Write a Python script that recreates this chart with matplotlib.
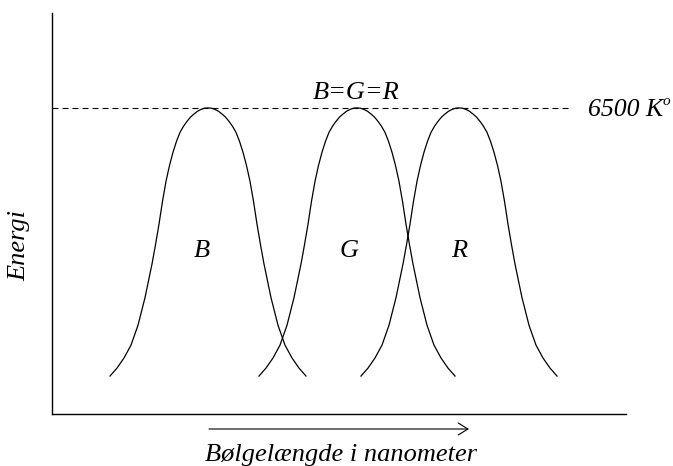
import matplotlib
matplotlib.use('Agg')
import matplotlib.pyplot as plt

plt.rcParams['font.family'] = ['Liberation Serif', 'DejaVu Serif']
plt.rcParams['font.style'] = 'italic'

# half of the bell shape (offset from peak, energy with peak = 100)
half_offset = [0, 3.5, 7, 10.5, 14, 17.5, 21, 24.5, 28, 31.5, 35, 38.5, 42, 45.5,
               49, 52.5, 56, 63, 70, 77, 84, 91, 98]
half_energy = [100, 99.9, 99.5, 98.9, 98, 97, 95.6, 94, 92, 89.1, 85.5, 81.2, 76, 69.5,
               62, 55.3, 49, 38, 29, 22.5, 18.3, 15, 12.4]
bell_offset = [-d for d in half_offset[::-1]] + half_offset[1:]
bell_energy = half_energy[::-1] + half_energy[1:]

names = ['B', 'G', 'R']
peaks = [156, 305, 407]
label_x = [150, 297, 407]
white_level = 100

fig = plt.figure(figsize=(6.73, 4.66), dpi=100)
ax = fig.add_axes([52/673, 52/466, 574/673, 401/466])
ax.set_xlim(0, 574)
ax.set_ylim(0, 131)

for name, p, lx in zip(names, peaks, label_x):
    ax.plot([p + d for d in bell_offset], bell_energy, color='black', lw=0.9)
    ax.text(lx, 51.3, name, ha='center', va='baseline', fontsize=19)

ax.plot([0, 518], [white_level, white_level], color='black', lw=0.8,
        dashes=(5.4, 3.6))
ax.text(304, 102.9, 'B=G=R', ha='center', va='baseline', fontsize=19)
t = ax.text(536, 97.4, '6500 K', ha='left', va='baseline', fontsize=18.5)
ax.annotate('o', xy=(1, 1), xycoords=t, xytext=(-0.5, 2.5), textcoords='offset points',
            ha='left', va='top', fontsize=11)

for s in ['top', 'right']:
    ax.spines[s].set_visible(False)
for s in ['left', 'bottom']:
    ax.spines[s].set_linewidth(1.0)
ax.set_xticks([])
ax.set_yticks([])

ax.annotate('', xy=(417, -4.9), xytext=(157, -4.9), xycoords='data',
            annotation_clip=False,
            arrowprops=dict(arrowstyle='->,head_length=0.7,head_width=0.43',
                            color='black', lw=0.8, shrinkA=0, shrinkB=0))
ax.text(289, -15.4, 'Bølgelængde i nanometer', ha='center', va='baseline',
        fontsize=19, clip_on=False)
ax.text(-33, 55.2, 'Energi', ha='center', va='center', rotation=90,
        fontsize=19, clip_on=False)

fig.savefig('out.png', dpi=100)
